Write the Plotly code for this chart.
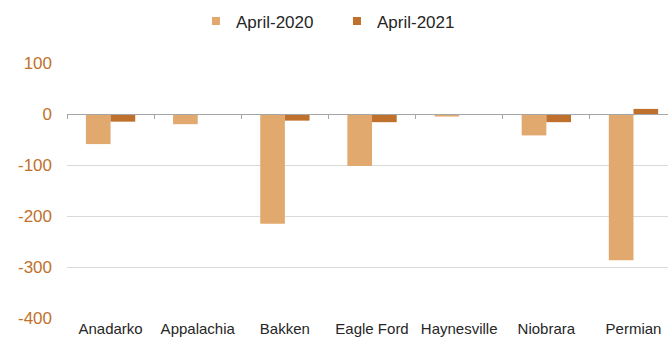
import plotly.graph_objects as go

categories = ["Anadarko", "Appalachia", "Bakken", "Eagle Ford", "Haynesville", "Niobrara", "Permian"]
april_2020 = [-59, -20, -215, -102, -5, -42, -287]
april_2021 = [-15, 0, -13, -16, 0, -16, 10]
series_names = ["April-2020", "April-2021"]
colors = ["#E2A96F", "#BE702C"]
y_ticks = [100, 0, -100, -200, -300, -400]
y_tick_text = ["100", "0", "-100", "-200", "-300", "-400"]

FONT = "Liberation Sans, Arial, sans-serif"

fig = go.Figure()
for name, vals, col in zip(series_names, [april_2020, april_2021], colors):
    fig.add_trace(go.Bar(x=categories, y=vals, name=name, marker=dict(color=col, line=dict(width=0)),
                         showlegend=False))
    fig.add_trace(go.Scatter(x=[None], y=[None], mode="markers", name=name,
                             marker=dict(symbol="square", size=8, color=col)))

# axis line at zero with boundary ticks
fig.add_trace(go.Scatter(x=categories, y=[None]*len(categories), xaxis="x2", showlegend=False, hoverinfo="skip"))

fig.update_layout(
    width=668, height=346,
    margin=dict(l=67, r=0, t=63, b=28, autoexpand=False),
    paper_bgcolor="white", plot_bgcolor="white",
    barmode="group", bargap=0.434, bargroupgap=0,
    font=dict(family=FONT, size=15, color="#262626"),
    legend=dict(orientation="h", x=0.2146, xanchor="left", yref="container", y=0.938, yanchor="middle",
                font=dict(size=17, color="#262626"), entrywidth=96, itemwidth=30,
                bgcolor="rgba(0,0,0,0)"),
    xaxis=dict(type="category", range=[-0.5, 6.396], showgrid=False, showline=False, ticks="",
               tickfont=dict(size=15, color="#262626"), fixedrange=True),
    xaxis2=dict(type="category", overlaying="x", matches="x", anchor="free", position=0.8, side="bottom",
                showline=True, linecolor="#A6A6A6", linewidth=1.2, ticks="outside", tickson="boundaries",
                ticklen=4, tickcolor="#A6A6A6", showticklabels=False, showgrid=False,
                range=[-0.5, 6.396]),
    yaxis=dict(range=[-400, 100], tickvals=y_ticks, ticktext=y_tick_text, showgrid=True,
               gridcolor="#D9D9D9", gridwidth=1.2,
               zeroline=False, showline=False, ticks="", ticklabelstandoff=14,
               tickfont=dict(size=17, color="#C0712B")),
)

fig.write_html("out.html")
